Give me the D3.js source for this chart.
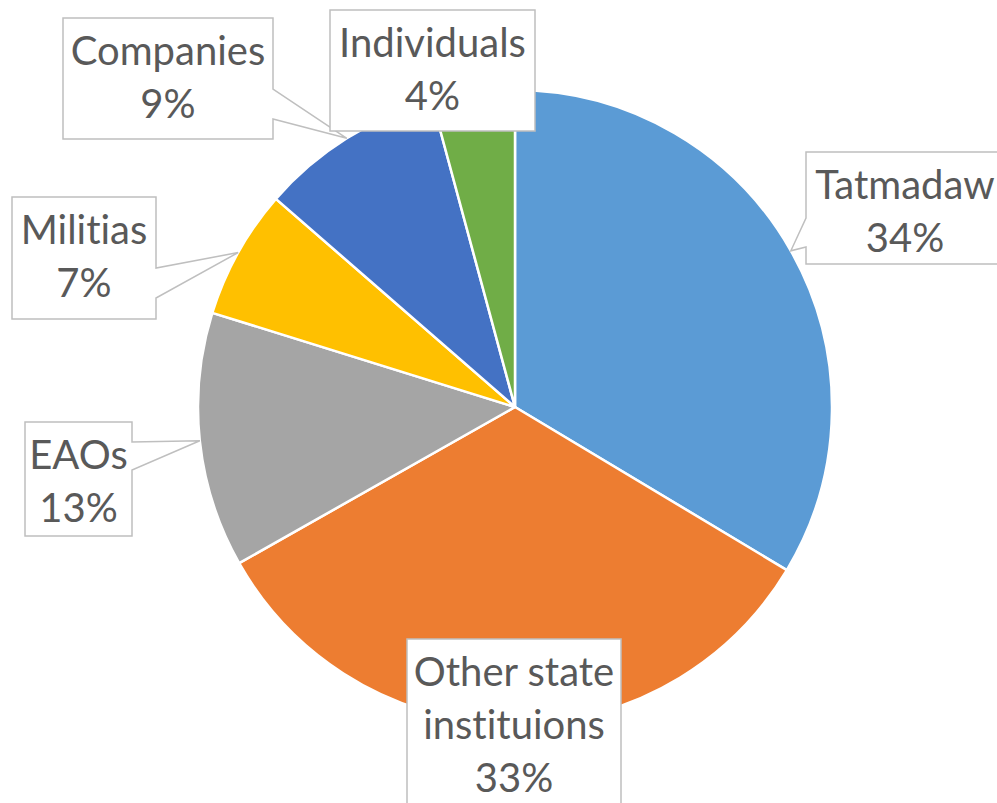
<!DOCTYPE html>
<html>
<head>
<meta charset="utf-8">
<script src="https://cdn.jsdelivr.net/npm/d3@7"></script>
<style>
  body { margin: 0; background: #fff; }
  svg { display: block; }
  text { font-variant-ligatures: none; font-feature-settings: "liga" 0, "clig" 0; }
</style>
</head>
<body>
<svg id="chart" width="997" height="803"></svg>
<script>
// data (shares in %)
const categories = ['Tatmadaw', 'Other state instituions', 'EAOs', 'Militias', 'Companies', 'Individuals']
const values = [33.6, 33.2, 13.0, 6.6, 9.4, 4.2]
const colors = ['#5B9BD5', '#ED7D31', '#A5A5A5', '#FFC000', '#4472C4', '#70AD47']
const label_lines = [['Tatmadaw'], ['Other state', 'instituions'], ['EAOs'], ['Militias'], ['Companies'], ['Individuals']]

// callout boxes (layout only)
const callouts = [
  { x: 806, y: 152, w: 198, h: 112, side: 'left', base: [218, 247] },
  { x: 407, y: 639, w: 214, h: 200, side: null },
  { x: 25, y: 422, w: 107, h: 114, side: 'right', base: [442, 470] },
  { x: 12, y: 197, w: 144, h: 122, side: 'right', base: [268, 298] },
  { x: 63, y: 18, w: 210, h: 121, side: 'right', base: [89, 119] },
  { x: 330, y: 10, w: 205, h: 121, side: null }
]

const cx = 515, cy = 407, radius = 317
const line_h = 53

let svg = d3.select('#chart')

let pie = d3.pie().sort(null).value(d => d)
let arcs = pie(values)

let arc = d3.arc().innerRadius(0).outerRadius(radius)
let edge = d3.arc().innerRadius(radius).outerRadius(radius)

let g = svg.append('g').attr('transform', `translate(${cx},${cy})`)

g.selectAll('path.slice')
  .data(arcs)
  .join('path')
  .attr('class', 'slice')
  .attr('d', arc)
  .attr('fill', (d, i) => colors[i])
  .attr('stroke', '#fff')
  .attr('stroke-width', 2.5)
  .attr('stroke-linejoin', 'round')

function callout_path(c, tip) {
  let x0 = c.x, y0 = c.y, x1 = c.x + c.w, y1 = c.y + c.h
  let p = d3.path()
  p.moveTo(x0, y0)
  p.lineTo(x1, y0)
  if (c.side == 'right') {
    p.lineTo(x1, c.base[0])
    p.lineTo(tip[0], tip[1])
    p.lineTo(x1, c.base[1])
  }
  p.lineTo(x1, y1)
  p.lineTo(x0, y1)
  if (c.side == 'left') {
    p.lineTo(x0, c.base[1])
    p.lineTo(tip[0], tip[1])
    p.lineTo(x0, c.base[0])
  }
  p.closePath()
  return p.toString()
}

let labels = svg.append('g')

arcs.forEach((d, i) => {
  let c = callouts[i]
  let t = edge.centroid(d)
  let tip = [cx + t[0], cy + t[1]]
  let lg = labels.append('g')
  lg.append('path')
    .attr('d', callout_path(c, tip))
    .attr('fill', '#fff')
    .attr('stroke', '#BFBFBF')
    .attr('stroke-width', 1.5)
  let lines = label_lines[i].concat([Math.round(values[i]) + '%'])
  let text = lg.append('text')
    .attr('font-family', 'Lato, "Open Sans", sans-serif')
    .attr('font-size', 40)
    .attr('fill', '#595959')
    .attr('text-anchor', 'middle')
  lines.forEach((s, k) => {
    text.append('tspan')
      .attr('x', c.x + c.w / 2)
      .attr('y', c.y + 47 + k * line_h)
      .text(s)
  })
})
</script>
</body>
</html>
